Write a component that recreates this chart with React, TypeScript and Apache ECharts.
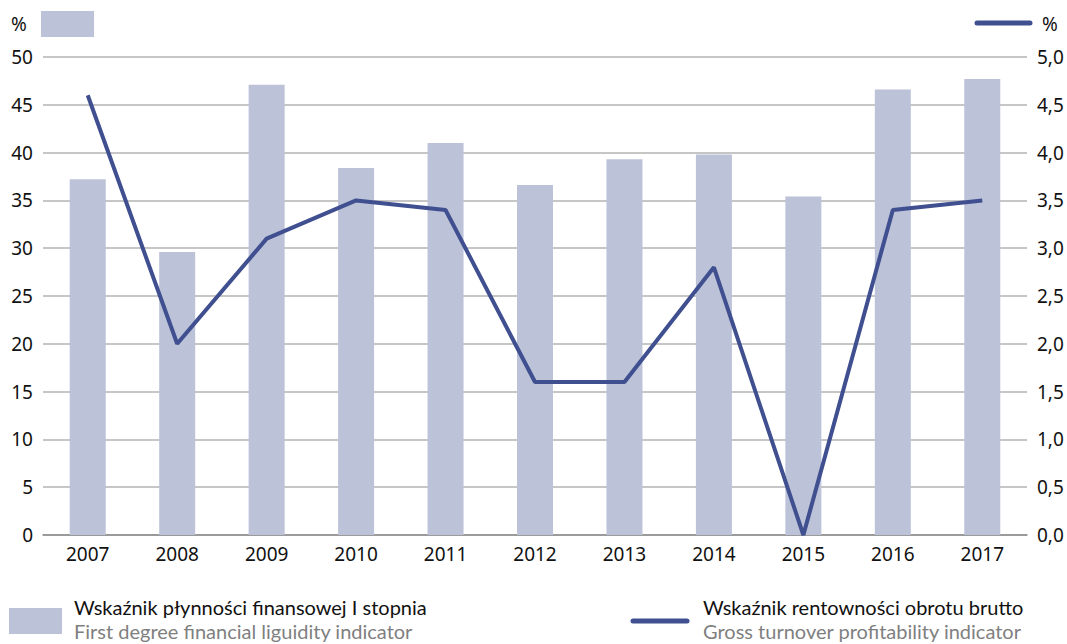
import React, { useEffect, useRef } from "react";
import * as echarts from "echarts";

const years = ["2007", "2008", "2009", "2010", "2011", "2012", "2013", "2014", "2015", "2016", "2017"];
const liquidity = [37.2, 29.6, 47.1, 38.4, 41.0, 36.6, 39.3, 39.8, 35.4, 46.6, 47.7];
const profitability = [4.6, 2.0, 3.1, 3.5, 3.4, 1.6, 1.6, 2.8, 0.0, 3.4, 3.5];

const legendBarPl = "Wskaźnik płynności finansowej I stopnia";
const legendBarEn = "First degree financial liguidity indicator";
const legendLinePl = "Wskaźnik rentowności obrotu brutto";
const legendLineEn = "Gross turnover profitability indicator";

const BAR = "#bcc2d8";
const LINE = "#3f4f8f";
const FONT = "'Noto Sans', 'Open Sans', sans-serif";
const LEG_FONT = "Lato, 'Noto Sans', sans-serif";

export default function App() {
  const ref = useRef<HTMLDivElement>(null);
  useEffect(() => {
    document.body.style.margin = "0";
    const chart = echarts.init(ref.current!, null, { renderer: "svg" });
    const txt = (x: number, y: number, text: string, fill: string, font = LEG_FONT, size = 20) => ({
      type: "text",
      left: x,
      top: y,
      style: { text, fontSize: size, lineHeight: 24, fill, fontFamily: font },
    });
    chart.setOption({
      animation: false,
      textStyle: { fontFamily: FONT },
      grid: { left: 43, right: 40, top: 57, bottom: 109 },
      xAxis: {
        type: "category",
        data: years,
        axisLine: { lineStyle: { color: "#8c8c8c", width: 1.5 } },
        axisTick: { show: false },
        axisLabel: { color: "#111", fontSize: 19, margin: 9, fontFamily: FONT },
      },
      yAxis: [
        {
          type: "value",
          min: 0,
          max: 50,
          interval: 5,
          axisLine: { show: false },
          axisTick: { show: false },
          splitLine: { lineStyle: { color: "#b3b3b3", width: 1.5 } },
          axisLabel: { color: "#111", fontSize: 19, margin: 10, fontFamily: FONT },
        },
        {
          type: "value",
          min: 0,
          max: 5,
          interval: 0.5,
          axisLine: { show: false },
          axisTick: { show: false },
          splitLine: { show: false },
          axisLabel: {
            color: "#111",
            fontSize: 19,
            margin: 10,
            fontFamily: FONT,
            formatter: (v: number) => v.toFixed(1).replace(".", ","),
          },
        },
      ],
      series: [
        {
          type: "bar",
          data: liquidity,
          barWidth: 36,
          itemStyle: { color: BAR },
          yAxisIndex: 0,
        },
        {
          type: "line",
          data: profitability,
          yAxisIndex: 1,
          symbol: "none",
          lineStyle: { color: LINE, width: 4 },
          z: 5,
        },
      ],
      graphic: [
        txt(11, 12, "%", "#111", FONT, 19),
        { type: "rect", shape: { x: 41, y: 11, width: 53, height: 26 }, style: { fill: BAR } },
        { type: "line", shape: { x1: 977, y1: 23, x2: 1030, y2: 23 }, style: { stroke: LINE, lineWidth: 5, lineCap: "round" } },
        txt(1042, 12, "%", "#111", FONT, 19),
        { type: "rect", shape: { x: 9, y: 608, width: 53, height: 26 }, style: { fill: BAR } },
        txt(74, 595, legendBarPl, "#111"),
        txt(74, 619, legendBarEn, "#7f7f7f"),
        { type: "line", shape: { x1: 633, y1: 621, x2: 687, y2: 621 }, style: { stroke: LINE, lineWidth: 5, lineCap: "round" } },
        txt(703, 595, legendLinePl, "#111"),
        txt(703, 619, legendLineEn, "#7f7f7f"),
      ],
    });
    return () => chart.dispose();
  }, []);
  return <div ref={ref} style={{ width: 1067, height: 644 }} />;
}
